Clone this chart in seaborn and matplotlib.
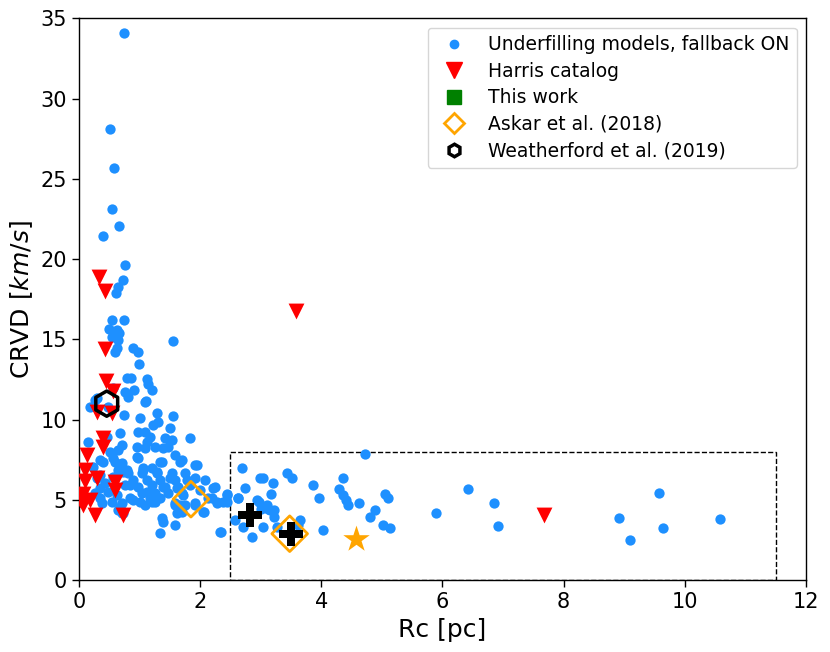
import numpy as np
import pandas as pd
import seaborn as sns
import matplotlib.pyplot as plt
from matplotlib.lines import Line2D
from matplotlib.patches import Rectangle

# underfilling models (Rc [pc], CRVD [km/s])
model_rc = [
    0.74, 0.51, 0.58, 0.54, 0.66, 0.40, 0.76, 0.73, 0.64, 0.61,
    0.54, 0.74, 0.50, 0.63, 0.66, 0.54, 0.64, 0.63, 0.59, 1.55,
    0.89, 0.97, 0.99, 0.79, 0.86, 1.12, 1.14, 1.20, 0.91, 0.76,
    0.56, 0.81, 1.11, 0.30, 0.26, 0.18, 0.48, 1.09, 0.74, 1.01,
    1.29, 1.55, 1.30, 1.22, 0.97, 1.09, 1.17, 1.12, 1.50, 1.42,
    1.53, 1.83, 0.68, 0.46, 0.15, 0.71, 0.64, 0.51, 0.96, 1.09,
    1.25, 1.39, 1.47, 1.58, 1.70, 1.95, 0.97, 1.37, 1.20, 0.35,
    0.59, 0.71, 0.79, 1.06, 0.23, 1.67,
    0.81, 1.04, 1.29, 1.53, 1.75, 0.89, 1.12, 1.34, 1.58, 1.78,
    0.43, 0.76, 0.97, 1.20, 1.42, 1.63, 1.83, 0.26, 0.48, 1.04,
    1.25, 1.47, 1.70, 0.84, 1.17, 1.34, 0.38, 0.54, 0.71, 1.58,
    1.75, 1.91, 0.64, 0.71, 2.05, 1.37, 1.39, 1.58, 1.34, 2.19,
    2.21, 2.44, 2.28, 2.13, 2.62, 1.58, 1.70, 1.09, 1.25, 2.34,
    0.35, 0.56, 0.64, 1.91, 2.00, 2.08,
    1.67, 1.62, 1.91, 2.06, 2.28, 2.44, 2.24, 1.91, 0.96, 1.34,
    1.83, 1.39, 1.12, 1.01, 0.73, 0.68, 0.35, 0.30, 0.35, 0.89,
    1.20, 1.62, 1.72, 0.40, 0.56, 1.50, 1.29, 1.06, 0.73, 0.84,
    0.63,
    2.69, 2.99, 3.04, 3.20, 3.43, 3.51, 3.86, 3.96, 4.36, 4.29,
    4.36, 4.41, 4.44, 4.62, 4.88, 4.80, 5.05, 5.10, 5.02, 5.13,
    4.03, 4.72, 2.74, 2.44, 2.38, 2.62, 2.94, 3.10, 3.15, 3.22,
    3.17, 2.57, 2.71, 2.85, 3.04, 3.27, 3.65, 2.33, 3.22, 3.61,
    2.97, 3.01, 3.13,
    5.89, 6.42, 6.85, 6.91, 8.91, 9.57, 9.64, 9.09, 10.58,
]
model_crvd = [
    34.06, 28.08, 25.65, 23.10, 22.04, 21.42, 19.61, 18.68, 18.24, 17.87,
    16.19, 16.19, 15.63, 15.57, 15.38, 15.13, 14.94, 14.45, 14.20, 14.88,
    14.45, 14.20, 13.45, 12.58, 12.58, 12.52, 12.20, 11.83, 11.83, 11.71,
    12.00, 11.39, 11.15, 11.33, 11.20, 10.77, 10.77, 11.08, 10.27, 10.09,
    10.40, 10.21, 9.84, 9.65, 9.22, 9.22, 8.90, 8.59, 9.46, 8.84,
    8.72, 8.84, 9.15, 8.90, 8.59, 8.41, 8.09, 7.97, 8.28, 8.22,
    8.28, 8.22, 8.28, 7.78, 7.47, 7.16, 7.60, 7.35, 6.97, 7.47,
    7.35, 7.29, 6.85, 6.97, 7.04, 7.35,
    6.66, 6.66, 6.66, 6.66, 6.66, 6.23, 6.23, 6.23, 6.23, 6.23,
    6.04, 5.92, 5.79, 5.92, 5.79, 5.79, 5.92, 5.42, 5.48, 5.42,
    5.42, 5.42, 5.42, 5.11, 5.11, 5.11, 4.79, 4.86, 4.79, 4.79,
    4.67, 4.79, 4.36, 4.17, 4.23, 3.86, 3.61, 3.42, 2.93, 5.11,
    5.73, 5.29, 4.86, 5.11, 5.10, 4.67, 4.23, 4.67, 4.86, 2.99,
    6.54, 6.41, 6.85, 6.35, 5.60, 6.23,
    4.67, 4.17, 4.67, 4.23, 4.79, 4.86, 5.79, 7.16, 7.66, 7.35,
    6.10, 5.79, 5.48, 4.86, 4.17, 4.55, 5.73, 6.35, 5.11, 4.98,
    4.86, 5.73, 5.29, 7.35, 7.60, 6.35, 6.72, 6.85, 6.72, 5.92,
    5.29,
    6.97, 6.35, 6.35, 6.04, 6.66, 6.35, 5.91, 5.10, 6.40, 5.70,
    5.30, 4.98, 4.67, 4.79, 4.36, 3.92, 5.40, 5.10, 3.42, 3.24,
    3.11, 7.85, 5.73, 5.40, 4.86, 5.10, 4.98, 4.67, 4.36, 4.36,
    5.40, 3.73, 3.30, 2.68, 3.30, 3.30, 3.73, 3.00, 3.92, 3.42,
    4.86, 4.42, 4.42,
    4.17, 5.67, 4.80, 3.36, 3.86, 5.42, 3.24, 2.49, 3.80,
]

# Harris catalog
harris_rc = [0.33, 0.43, 0.43, 0.45, 0.56, 0.30, 0.55, 0.40, 0.40, 0.13,
             0.10, 0.10, 0.30, 0.59, 0.59, 0.07, 0.18, 0.07, 0.26, 0.73,
             0.02, 3.58, 7.67]
harris_crvd = [18.9, 18.0, 14.4, 12.4, 11.8, 10.5, 10.4, 8.84, 8.28, 7.8,
               6.85, 6.2, 6.4, 6.15, 5.6, 5.4, 5.0, 4.7, 4.05, 4.05,
               5.0, 16.8, 4.05]

askar_rc = [1.85, 3.48]
askar_crvd = [5.05, 2.9]
weatherford_rc = [0.46]
weatherford_crvd = [11.0]
cross_rc = [2.82, 3.50]
cross_crvd = [4.05, 2.9]
star_rc = [4.57]
star_crvd = [2.55]

box_rc = [2.5, 11.5]
box_crvd = [0, 8]

sns.set_style('ticks')
plt.rcParams['font.family'] = ['DejaVu Sans']
plt.rcParams['text.color'] = 'black'
plt.rcParams['axes.labelcolor'] = 'black'

fig = plt.figure(figsize=(8.3, 6.52), dpi=100)
ax = fig.add_axes([0.095, 0.11, 0.876, 0.862])

models = pd.DataFrame({'rc': model_rc, 'crvd': model_crvd})
sns.scatterplot(data=models, x='rc', y='crvd', ax=ax, color='dodgerblue',
                s=55, linewidth=0, zorder=2)
sns.scatterplot(x=harris_rc, y=harris_crvd, ax=ax, marker='v', color='red',
                s=130, linewidth=0, zorder=3)
ax.scatter(weatherford_rc, weatherford_crvd, marker='h', s=330,
           facecolors='none', edgecolors='black', linewidths=2.5, zorder=4)
ax.scatter(askar_rc, askar_crvd, marker='D', s=330,
           facecolors='none', edgecolors='orange', linewidths=2, zorder=4)
ax.scatter(cross_rc, cross_crvd, marker='P', s=300, color='black',
           linewidths=0, zorder=5)
ax.scatter(star_rc, star_crvd, marker='*', s=400, color='orange',
           linewidths=0, zorder=5)

ax.add_patch(Rectangle((box_rc[0], box_crvd[0]), box_rc[1] - box_rc[0],
                       box_crvd[1] - box_crvd[0], fill=False,
                       linestyle='--', edgecolor='black', linewidth=1,
                       zorder=1))

ax.set_xlim(0, 12)
ax.set_ylim(0, 35)
ax.set_xlabel('Rc [pc]', fontsize=18, color='black')
ax.set_ylabel('CRVD [$km/s$]', fontsize=18, color='black')
ax.tick_params(labelsize=15, length=5, width=1, colors='black')
for sp in ax.spines.values():
    sp.set_color('black')
    sp.set_linewidth(1)

handles = [
    Line2D([], [], linestyle='', marker='o', color='dodgerblue', markersize=6),
    Line2D([], [], linestyle='', marker='v', color='red', markersize=11),
    Line2D([], [], linestyle='', marker='s', color='green', markersize=10),
    Line2D([], [], linestyle='', marker='D', markerfacecolor='none',
           markeredgecolor='orange', markeredgewidth=2, markersize=10),
    Line2D([], [], linestyle='', marker='h', markerfacecolor='none',
           markeredgecolor='black', markeredgewidth=2.5, markersize=9),
]
labels = ['Underfilling models, fallback ON', 'Harris catalog', 'This work',
          'Askar et al. (2018)', 'Weatherford et al. (2019)']
leg = ax.legend(handles, labels, loc='upper right', fontsize=13.5,
                frameon=True, labelspacing=0.4)
for t in leg.get_texts():
    t.set_color('black')

fig.savefig('out.png', dpi=100)
